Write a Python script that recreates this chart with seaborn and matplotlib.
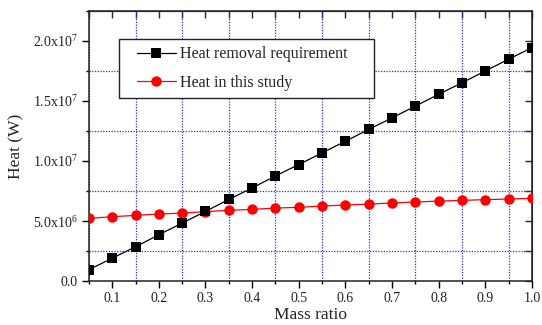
import matplotlib
matplotlib.use("Agg")
import matplotlib.pyplot as plt
from matplotlib.ticker import MultipleLocator
from matplotlib.legend_handler import HandlerLine2D
import seaborn as sns
import pandas as pd

# ---- data ----
mass_ratio = [0.05, 0.10, 0.15, 0.20, 0.25, 0.30, 0.35, 0.40, 0.45, 0.50,
              0.55, 0.60, 0.65, 0.70, 0.75, 0.80, 0.85, 0.90, 0.95, 1.00]
heat_removal = [0.96e6, 1.92e6, 2.87e6, 3.87e6, 4.84e6, 5.81e6, 6.81e6, 7.76e6, 8.76e6, 9.71e6,
                10.68e6, 11.65e6, 12.63e6, 13.59e6, 14.57e6, 15.55e6, 16.51e6, 17.49e6, 18.47e6, 19.43e6]
heat_study = [5.23e6, 5.37e6, 5.48e6, 5.59e6, 5.67e6, 5.79e6, 5.90e6, 5.98e6, 6.09e6, 6.15e6,
              6.26e6, 6.34e6, 6.42e6, 6.51e6, 6.59e6, 6.67e6, 6.73e6, 6.79e6, 6.84e6, 6.90e6]
series_names = ["Heat removal requirement", "Heat in this study"]

xtick_values = [0.1, 0.2, 0.3, 0.4, 0.5, 0.6, 0.7, 0.8, 0.9, 1.0]
xtick_labels = ["0.1", "0.2", "0.3", "0.4", "0.5", "0.6", "0.7", "0.8", "0.9", "1.0"]
ytick_values = [0, 5e6, 1e7, 1.5e7, 2e7]
ytick_labels = ["0.0", r"5.0x10$^{6}$", r"1.0x10$^{7}$", r"1.5x10$^{7}$", r"2.0x10$^{7}$"]

df = pd.DataFrame({"x": mass_ratio, "removal": heat_removal, "study": heat_study})

# ---- style ----
sns.set_style("ticks")
plt.rcParams["font.family"] = ["Liberation Serif", "DejaVu Serif"]
plt.rcParams["mathtext.fontset"] = "custom"
plt.rcParams["mathtext.rm"] = "Liberation Serif"
plt.rcParams["mathtext.it"] = "Liberation Serif:italic"
plt.rcParams["mathtext.default"] = "regular"

fig = plt.figure(figsize=(5.42, 3.25), dpi=100)
ax = fig.add_axes([0.164, 0.1345, 0.8175, 0.8325])

sns.lineplot(data=df, x="x", y="removal", ax=ax, color="black", marker="s",
             markersize=6.5, markeredgewidth=0, linewidth=0.9, label=series_names[0], zorder=4)
sns.lineplot(data=df, x="x", y="study", ax=ax, color="red", marker="o",
             markersize=7.5, markeredgewidth=0, linewidth=0.9, label=series_names[1], zorder=3)

ax.set_xlim(0.05, 1.0)
ax.set_ylim(0, 2.25e7)

ax.set_xticks(xtick_values, labels=xtick_labels)
ax.set_yticks(ytick_values, labels=ytick_labels)
ax.xaxis.set_minor_locator(MultipleLocator(0.05))
ax.yaxis.set_minor_locator(MultipleLocator(2.5e6))
ax.tick_params(axis="both", which="major", direction="out", length=5, width=1,
               labelsize=10, pad=3, color="black", labelcolor="#222222")
ax.tick_params(axis="both", which="minor", direction="out", length=2.5, width=1, color="black")
ax.grid(which="minor", color="#2a2aff", linestyle=(0, (1, 1.2)), linewidth=0.9)
ax.grid(which="major", visible=False)

for s in ax.spines.values():
    s.set_linewidth(1.1)
    s.set_color("#222222")
    s.set_visible(True)

# top and right inward ticks
top = ax.secondary_xaxis("top")
top.set_xticks([0.05, 0.10, 0.15, 0.20, 0.25, 0.30, 0.35, 0.40, 0.45, 0.50,
                0.55, 0.60, 0.65, 0.70, 0.75, 0.80, 0.85, 0.90, 0.95, 1.00])
top.xaxis.set_ticklabels([])
top.tick_params(direction="in", length=5, width=1)
right = ax.secondary_yaxis("right")
right.set_yticks([0, 2.5e6, 5e6, 7.5e6, 1e7, 1.25e7, 1.5e7, 1.75e7, 2e7])
right.yaxis.set_ticklabels([])
right.tick_params(direction="in", length=5, width=1)

ax.set_xlabel("Mass ratio", fontsize=12.5, labelpad=1, color="#222222")
ax.set_ylabel("Heat (W)", fontsize=12.5, labelpad=6, color="#222222")

handles, labels = ax.get_legend_handles_labels()
leg = ax.legend(handles, labels, loc="upper left",
                bbox_to_anchor=(0.0684, 0.678, 0.5746, 0.2174),
                mode="expand", frameon=True, fancybox=False, shadow=False,
                fontsize=11.5, handlelength=3.1, handletextpad=0.27, borderpad=0.45,
                labelspacing=0.78, borderaxespad=0,
                handler_map={h: HandlerLine2D(xpad=0.67) for h in handles})
leg.get_frame().set_edgecolor("#222222")
leg.get_frame().set_linewidth(1.0)
leg.get_frame().set_alpha(1)
for t in leg.get_texts():
    t.set_color("#222222")

fig.savefig("out.png", dpi=100)
